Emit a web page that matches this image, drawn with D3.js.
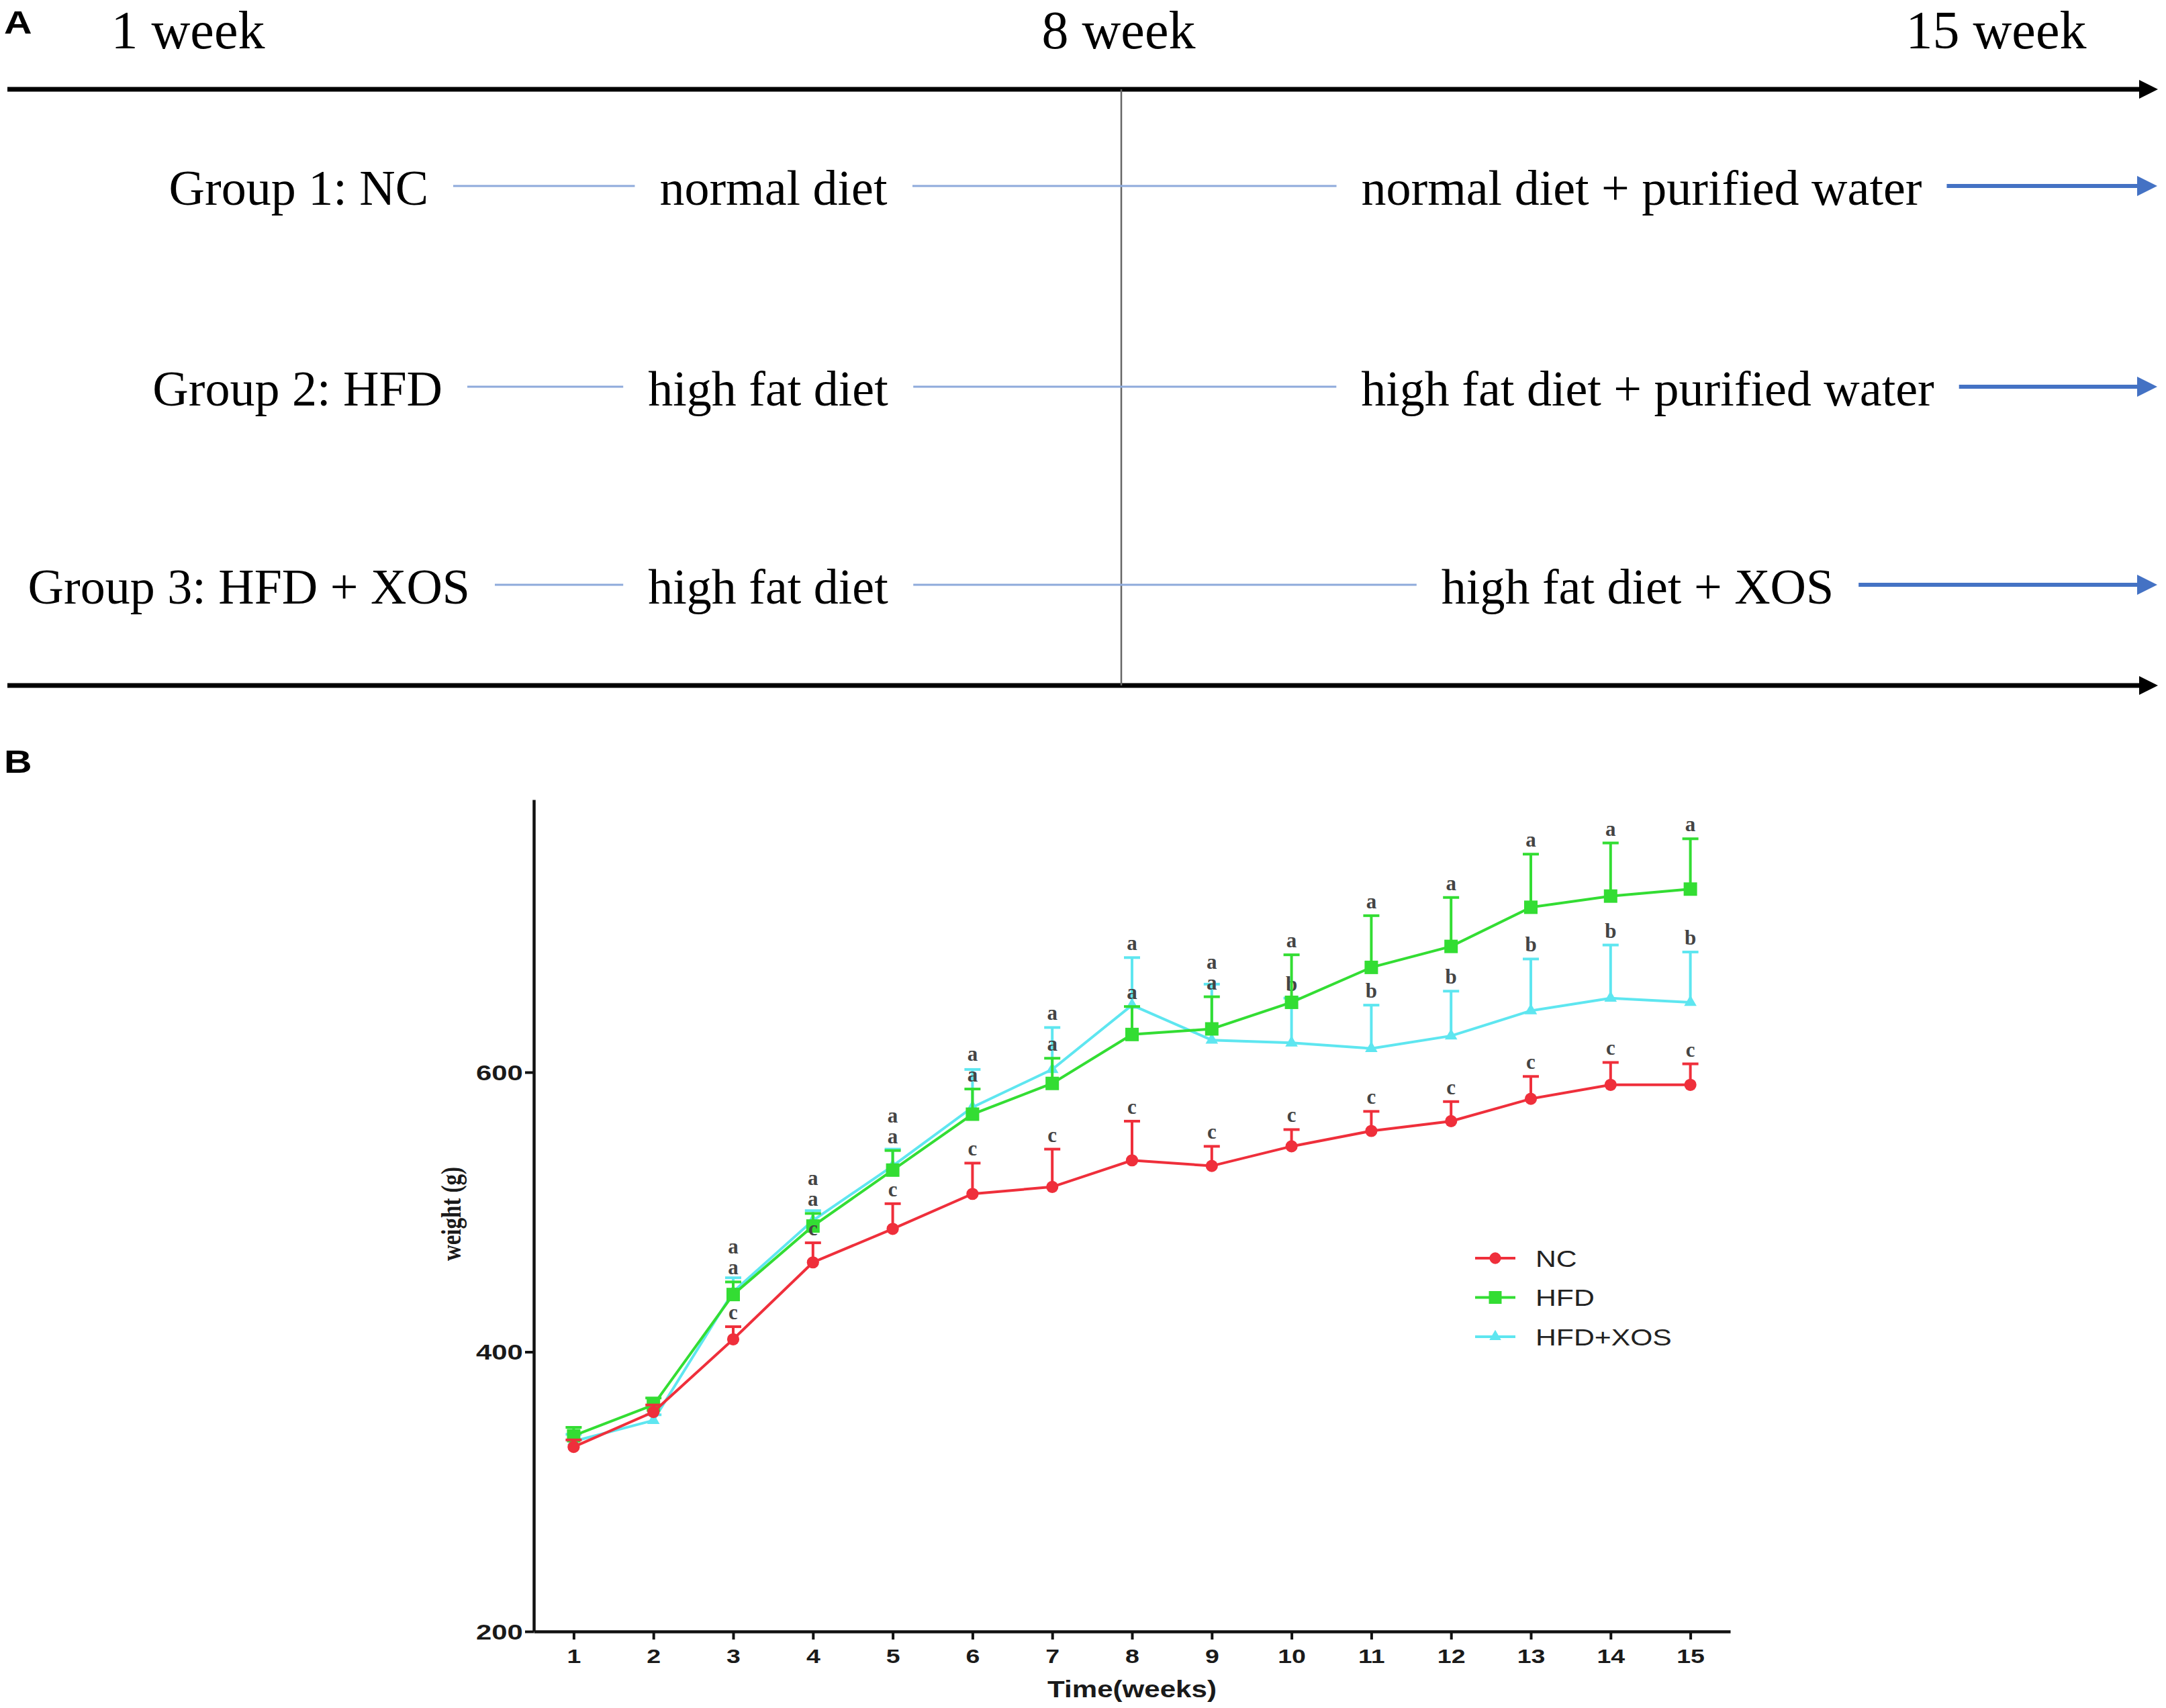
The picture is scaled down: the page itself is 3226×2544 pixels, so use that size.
<!DOCTYPE html>
<html>
<head>
<meta charset="utf-8">
<script src="https://cdn.jsdelivr.net/npm/d3@7"></script>
<style>
  html, body { margin: 0; padding: 0; background: #fff; }
  svg { display: block; }
</style>
</head>
<body>
<svg id="fig" width="3226" height="2544"></svg>
<script>
// --- Panel A: study design ---
const timeLabels = ['1 week', '8 week', '15 week'];
const groupNames = ['Group 1: NC', 'Group 2: HFD', 'Group 3: HFD + XOS'];
const firstPhase = ['normal diet', 'high fat diet', 'high fat diet'];
const secondPhase = ['normal diet + purified water', 'high fat diet + purified water', 'high fat diet + XOS'];

// --- Panel B: body weight (g) per week ---
const weeks = [1, 2, 3, 4, 5, 6, 7, 8, 9, 10, 11, 12, 13, 14, 15];
const yTicks = [200, 400, 600];
const ncMean  = [332, 357, 409, 464, 488, 513, 518, 537, 533, 547, 558, 565, 581, 591, 591];
const ncErr   = [5, 5, 9, 14, 18, 22, 27, 28, 14, 12, 14, 14, 16, 16, 15];
const hfdMean = [340, 362, 441, 490, 530, 570, 592, 627, 631, 650, 675, 690, 718, 726, 731];
const hfdErr  = [6, 5, 9, 9, 14, 18, 18, 20, 23, 34, 37, 35, 38, 38, 36];
const xosMean = [336, 351, 443, 494, 533, 575, 602, 648, 623, 621, 617, 626, 644, 653, 650];
const xosErr  = [5, 4, 10, 7, 12, 27, 30, 34, 40, 32, 31, 32, 37, 38, 36];
const ncLetters  = ['', '', 'c', 'c', 'c', 'c', 'c', 'c', 'c', 'c', 'c', 'c', 'c', 'c', 'c'];
const hfdLetters = ['', '', 'a', 'a', 'a', 'a', 'a', 'a', 'a', 'a', 'a', 'a', 'a', 'a', 'a'];
const xosLetters = ['', '', 'a', 'a', 'a', 'a', 'a', 'a', 'a', 'b', 'b', 'b', 'b', 'b', 'b'];
const seriesNames = ['NC', 'HFD', 'HFD+XOS'];

const svg = d3.select('#fig');
const serif = '"Liberation Serif", "Times New Roman", serif';
const sans = '"Liberation Sans", Arial, sans-serif';

// ================= Panel A =================
const A = svg.append('g');
A.append('text')
  .attr('font-family', sans).attr('font-weight', 'bold').attr('font-size', 48)
  .attr('transform', 'translate(6,50) scale(1.2,1)')
  .text('A');

const timeX = [280, 1666, 2973];
A.selectAll('.tlabel').data(timeLabels).enter().append('text')
  .attr('x', (d, i) => timeX[i]).attr('y', 72)
  .attr('text-anchor', 'middle')
  .attr('font-family', serif).attr('font-size', 80)
  .text(d => d);

function arrowLine(g, x1, x2, y, color, width, headLen, headHalf) {
  g.append('line').attr('x1', x1).attr('x2', x2 - headLen + 2).attr('y1', y).attr('y2', y)
    .attr('stroke', color).attr('stroke-width', width);
  g.append('path')
    .attr('d', `M${x2},${y} L${x2 - headLen},${y - headHalf} L${x2 - headLen},${y + headHalf} Z`)
    .attr('fill', color);
}

arrowLine(A, 11, 3214, 133, '#000', 7, 28, 14);
arrowLine(A, 11, 3214, 1021, '#000', 7, 28, 14);
A.append('line').attr('x1', 1670).attr('x2', 1670).attr('y1', 133).attr('y2', 1021)
  .attr('stroke', '#666').attr('stroke-width', 2.5);

const rowY = [277, 576, 871];
const nameEnd = [638, 659, 700];
const firstCenter = [1152, 1144, 1144];
const secondCenter = [2445, 2454, 2439];
const gap = 37;

rowY.forEach((y, i) => {
  const row = A.append('g');
  const t1 = row.append('text').attr('x', nameEnd[i]).attr('y', y + 28)
    .attr('text-anchor', 'end').attr('font-family', serif).attr('font-size', 74)
    .text(groupNames[i]);
  const t2 = row.append('text').attr('x', firstCenter[i]).attr('y', y + 28)
    .attr('text-anchor', 'middle').attr('font-family', serif).attr('font-size', 74)
    .text(firstPhase[i]);
  const t3 = row.append('text').attr('x', secondCenter[i]).attr('y', y + 28)
    .attr('text-anchor', 'middle').attr('font-family', serif).attr('font-size', 74)
    .text(secondPhase[i]);
  const b1 = t1.node().getBBox(), b2 = t2.node().getBBox(), b3 = t3.node().getBBox();
  row.append('line').attr('x1', b1.x + b1.width + gap).attr('x2', b2.x - gap)
    .attr('y1', y).attr('y2', y).attr('stroke', '#8eaadb').attr('stroke-width', 3);
  row.append('line').attr('x1', b2.x + b2.width + gap).attr('x2', b3.x - gap)
    .attr('y1', y).attr('y2', y).attr('stroke', '#8eaadb').attr('stroke-width', 3);
  arrowLine(row, b3.x + b3.width + gap, 3213, y, '#4472c4', 6, 30, 15);
});

// ================= Panel B =================
const B = svg.append('g');
B.append('text')
  .attr('font-family', sans).attr('font-weight', 'bold').attr('font-size', 48)
  .attr('transform', 'translate(6,1151) scale(1.2,1)')
  .text('B');

const x = d3.scaleLinear().domain([0.5, 15.5]).range([795, 2577]);
const y = d3.scaleLinear().domain([200, 795]).range([2430, 1191]);

const xAxis = B.append('g').attr('transform', 'translate(0,2430)')
  .call(d3.axisBottom(x).tickValues(weeks).tickSize(12).tickSizeOuter(0));
const yAxis = B.append('g').attr('transform', 'translate(795,0)')
  .call(d3.axisLeft(y).tickValues(yTicks).tickSize(13).tickSizeOuter(0));

[xAxis, yAxis].forEach(ax => {
  ax.select('.domain').attr('stroke', '#111').attr('stroke-width', 4.5);
  ax.selectAll('.tick line').attr('stroke', '#111').attr('stroke-width', 4);
  ax.selectAll('.tick text').attr('fill', '#1a1a1a')
    .attr('font-family', sans).attr('font-weight', 'bold');
});
xAxis.selectAll('.tick text').attr('font-size', 30).attr('dy', null).attr('y', 47)
  .attr('transform', 'scale(1.25,1)');
yAxis.selectAll('.tick text').attr('font-size', 31).attr('x', -12).attr('dy', '0.36em')
  .attr('transform', 'scale(1.35,1)');

// axis titles
B.append('text')
  .attr('transform', `translate(${x(8)},2528) scale(1.17,1)`)
  .attr('text-anchor', 'middle')
  .attr('font-family', sans).attr('font-weight', 'bold').attr('font-size', 36)
  .attr('fill', '#1a1a1a')
  .text('Time(weeks)');
B.append('text')
  .attr('transform', 'translate(686,1808) scale(1.25,1) rotate(-90)')
  .attr('text-anchor', 'middle')
  .attr('font-family', serif).attr('font-weight', 'bold').attr('font-size', 33)
  .attr('fill', '#1a1a1a')
  .text('weight (g)');

const series = [
  { name: seriesNames[2], mean: xosMean, err: xosErr, letters: xosLetters, color: '#5ee6f0',
    symbol: d3.symbolTriangle, size: 150 },
  { name: seriesNames[1], mean: hfdMean, err: hfdErr, letters: hfdLetters, color: '#33dd33',
    symbol: d3.symbolSquare, size: 400 },
  { name: seriesNames[0], mean: ncMean, err: ncErr, letters: ncLetters, color: '#ef2f3b',
    symbol: d3.symbolCircle, size: 260 }
];

const line = d3.line().x(d => x(d.w)).y(d => y(d.m));

// letter label baselines, nudged apart where two series stack at one week
const letterGap = 31;
const letterY = series.map(s => weeks.map((w, i) => y(s.mean[i] + s.err[i]) - 11));
weeks.forEach((w, i) => {
  const idx = series.map((s, k) => k).filter(k => series[k].letters[i])
    .sort((a, b) => letterY[b][i] - letterY[a][i]);
  for (let j = 1; j < idx.length; j++) {
    const prev = letterY[idx[j - 1]][i];
    if (prev - letterY[idx[j]][i] < letterGap) letterY[idx[j]][i] = prev - letterGap;
  }
});

series.forEach((s, k) => {
  const pts = weeks.map((w, i) => ({ w, m: s.mean[i], e: s.err[i], l: s.letters[i], ly: letterY[k][i] }));
  const g = B.append('g');
  // upper error bars
  g.selectAll('.eb').data(pts).enter().append('line')
    .attr('x1', d => x(d.w)).attr('x2', d => x(d.w))
    .attr('y1', d => y(d.m)).attr('y2', d => y(d.m + d.e))
    .attr('stroke', s.color).attr('stroke-width', 4);
  g.selectAll('.cap').data(pts).enter().append('line')
    .attr('x1', d => x(d.w) - 12).attr('x2', d => x(d.w) + 12)
    .attr('y1', d => y(d.m + d.e)).attr('y2', d => y(d.m + d.e))
    .attr('stroke', s.color).attr('stroke-width', 4);
  g.append('path').datum(pts).attr('d', line)
    .attr('fill', 'none').attr('stroke', s.color).attr('stroke-width', 4);
  g.selectAll('.mk').data(pts).enter().append('path')
    .attr('d', d3.symbol(s.symbol, s.size))
    .attr('transform', d => `translate(${x(d.w)},${y(d.m)})`)
    .attr('fill', s.color);
  g.selectAll('.lt').data(pts.filter(d => d.l)).enter().append('text')
    .attr('x', d => x(d.w)).attr('y', d => d.ly)
    .attr('text-anchor', 'middle')
    .attr('font-family', serif).attr('font-weight', 'bold').attr('font-size', 31)
    .attr('fill', '#444')
    .text(d => d.l);
});

// legend
const legendRows = [series[2], series[1], series[0]];
const lg = B.append('g');
legendRows.forEach((s, i) => {
  const ly = 1874 + i * 58.5;
  lg.append('line').attr('x1', 2197).attr('x2', 2257).attr('y1', ly).attr('y2', ly)
    .attr('stroke', s.color).attr('stroke-width', 4);
  lg.append('path').attr('d', d3.symbol(s.symbol, s.size * 0.9))
    .attr('transform', `translate(2227,${ly})`).attr('fill', s.color);
  lg.append('text')
    .attr('transform', `translate(2287,${ly + 12.5}) scale(1.22,1)`)
    .attr('font-family', sans).attr('font-size', 35).attr('fill', '#222')
    .text(s.name);
});
</script>
</body>
</html>
